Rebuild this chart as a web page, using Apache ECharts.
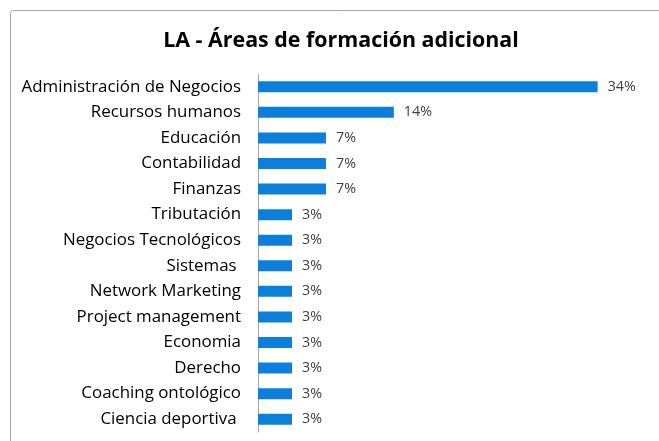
<!DOCTYPE html>
<html><head><meta charset="utf-8">
<script src="https://cdn.jsdelivr.net/npm/echarts@6/dist/echarts.min.js"></script>
<style>html,body{margin:0;padding:0;background:#fff}#c{width:659px;height:441px}</style>
</head><body><div id="c"></div>
<script>
const categories = ["Administración de Negocios","Recursos humanos","Educación","Contabilidad","Finanzas","Tributación","Negocios Tecnológicos","Sistemas ","Network Marketing","Project management","Economia","Derecho","Coaching ontológico","Ciencia deportiva "];
const values = [34.48, 13.79, 6.90, 6.90, 6.90, 3.45, 3.45, 3.45, 3.45, 3.45, 3.45, 3.45, 3.45, 3.45];
const titleText = "LA - Áreas de formación adicional";

const chart = echarts.init(document.getElementById('c'), null, {renderer:'canvas'});
chart.setOption({
  animation:false,
  backgroundColor:'#fff',
  graphic:[{type:'rect', shape:{x:10.5,y:10.5,width:700,height:500,r:3}, style:{fill:'none',stroke:'#a6a6a6',lineWidth:1}, silent:true}],
  title:{text:titleText, left:336, textAlign:'center', top:25, textStyle:{fontFamily:'Open Sans', fontWeight:'bold', fontSize:21.4, color:'#000'}},
  grid:{left:258, right:7, top:74, height:358, containLabel:false},
  xAxis:{type:'value', min:0, max:40, show:false},
  yAxis:{type:'category', inverse:true, data:categories,
    axisLine:{show:true, lineStyle:{color:'#a6a6a6', width:1}},
    axisTick:{show:false},
    axisLabel:{margin:17, fontFamily:'Open Sans', fontSize:16.9, color:'#000'}},
  series:[{type:'bar', data:values, barWidth:11,
    itemStyle:{color:'#0b7fdb'},
    label:{show:true, position:'right', distance:10, fontFamily:'Open Sans', fontSize:14.3, color:'#404040',
      formatter:p=>Math.round(p.value)+'%'}}]
});
</script></body></html>
